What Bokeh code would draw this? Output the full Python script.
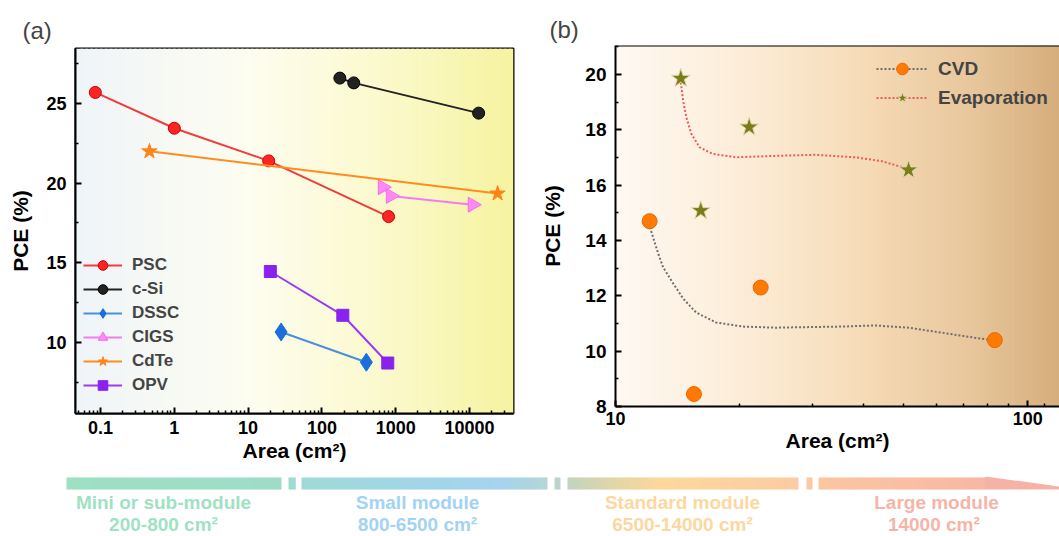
import numpy as np
from bokeh.plotting import figure
from bokeh.models import (Range1d, FixedTicker, NumeralTickFormatter, Legend, LegendItem,
                          BoxAnnotation, Span, PolyAnnotation)
from bokeh.layouts import column, row
from bokeh.embed import file_html
from bokeh.resources import INLINE

FONT = "Liberation Sans"

# ---------------- Panel (a) data ----------------
psc_area = [0.085, 1.0, 19, 800]
psc_pce = [25.7, 23.45, 21.4, 17.9]
csi_area = [175, 270, 13300]
csi_pce = [26.6, 26.3, 24.4]
dssc_area = [28, 400]
dssc_pce = [10.65, 8.75]
cigs_area = [665, 855, 11000]
cigs_pce = [19.75, 19.2, 18.65]
cdte_area = [0.46, 24000]
cdte_pce = [22.0, 19.35]
opv_area = [20, 192, 780]
opv_pce = [14.45, 11.7, 8.7]

# ---------------- Panel (b) data ----------------
cvd_area = [12.1, 15.5, 22.5, 83.2]
cvd_pce = [14.7, 8.45, 12.3, 10.4]
evap_area = [14.4, 21.1, 16.1, 51.4]
evap_pce = [19.86, 18.1, 15.08, 16.55]
# dotted trend curves
cvd_fit_area = [12.12, 12.69, 13.05, 13.8, 14.59, 15.68, 17.52, 20.34, 24.43, 35.4, 42.5, 51.4, 61.7, 74.1, 83.2]
cvd_fit_pce = [14.48, 13.53, 13.03, 12.45, 11.9, 11.4, 11.04, 10.89, 10.85, 10.89, 10.93, 10.85, 10.67, 10.49, 10.38]
evap_fit_area = [14.4, 14.59, 14.85, 15.27, 16.0, 17.22, 19.6, 24.5, 30.55, 38.1, 44.2, 51.3]
evap_fit_pce = [19.72, 19.06, 18.46, 17.86, 17.37, 17.13, 17.01, 17.06, 17.1, 17.01, 16.87, 16.59]

# ---------------- Bottom band ----------------
stage_names = ["Mini or sub-module", "Small module", "Standard module", "Large module"]
stage_ranges = ["200-800 cm²", "800-6500 cm²", "6500-14000 cm²", "14000  cm²"]
stage_x = [163, 417, 682, 936]
stage_colors = ["#9fe2c3", "#a3d3f3", "#fdd7a0", "#f6b4a7"]


def hex2rgb(h):
    return tuple(int(h[i:i + 2], 16) for i in (1, 3, 5))


def interp(stops, t):
    t = max(stops[0][0], t)
    for (t0, c0), (t1, c1) in zip(stops[:-1], stops[1:]):
        if t <= t1:
            f = (t - t0) / (t1 - t0) if t1 > t0 else 0
            a, b = hex2rgb(c0), hex2rgb(c1)
            return "#%02x%02x%02x" % tuple(int(round(a[k] + (b[k] - a[k]) * f)) for k in range(3))
    return stops[-1][1]


def log_gradient(p, x0, x1, stops, n=90):
    l0, l1 = np.log10(x0), np.log10(x1)
    for i in range(n):
        t0 = i / n
        t1 = min(1.0, (i + 1.6) / n)
        c = interp(stops, (i + 0.5) / n)
        p.add_layout(BoxAnnotation(left=10 ** (l0 + (l1 - l0) * t0), right=10 ** (l0 + (l1 - l0) * t1),
                                   fill_color=c, fill_alpha=1.0, line_color=None, level="underlay"))


def style_axis(ax, label_size, tick_size, tick_standoff, label_standoff):
    ax.axis_line_width = 2
    ax.axis_line_color = "black"
    ax.major_tick_in = 6
    ax.major_tick_out = 0
    ax.minor_tick_in = 3
    ax.minor_tick_out = 0
    ax.major_tick_line_width = 2
    ax.minor_tick_line_width = 1.5
    ax.major_tick_line_color = "black"
    ax.minor_tick_line_color = "black"
    ax.major_label_text_font = FONT
    ax.major_label_text_font_style = "bold"
    ax.major_label_text_font_size = tick_size
    ax.major_label_text_color = "black"
    ax.axis_label_text_font = FONT
    ax.axis_label_text_font_style = "bold"
    ax.axis_label_text_font_size = label_size
    ax.axis_label_text_color = "black"
    ax.major_label_standoff = tick_standoff
    ax.axis_label_standoff = label_standoff


ROW_H = 476

# ================= Panel (a) =================
ax0, ax1 = 0.0458, 39450
pa = figure(width=538, height=ROW_H, x_axis_type="log",
            x_range=Range1d(ax0, ax1), y_range=Range1d(5.53, 28.46),
            output_backend="svg", toolbar_location=None,
            min_border_left=75, min_border_right=25, min_border_top=48, min_border_bottom=ROW_H - 413,
            title="(a)")
pa.frame_align = False
pa.title.text_font = FONT
pa.title.text_font_size = "24px"
pa.title.text_font_style = "normal"
pa.title.align = "left"
pa.title.offset = -53
pa.title.standoff = 9
pa.grid.visible = False
pa.outline_line_color = "black"
pa.outline_line_width = 2
pa.outline_line_alpha = 1.0
pa.background_fill_color = "#eff4f8"
log_gradient(pa, ax0, ax1, [(0, "#eff4f8"), (0.4, "#fdfdf0"), (0.7, "#fbf9cc"), (1, "#f6f3a0")])

style_axis(pa.xaxis[0], "21px", "18px", 7, 2)
style_axis(pa.yaxis[0], "21px", "18px", 9, 11)
pa.xaxis.axis_label = "Area (cm²)"
pa.yaxis.axis_label = "PCE (%)"
pa.xaxis.ticker = FixedTicker(ticks=[0.1, 1, 10, 100, 1000, 10000],
                              minor_ticks=[d * 10.0 ** e for e in range(-2, 5) for d in range(2, 10)])
pa.xaxis.formatter = NumeralTickFormatter(format="0.[0]")
pa.yaxis.ticker = FixedTicker(ticks=[10, 15, 20, 25], minor_ticks=[7.5, 12.5, 17.5, 22.5, 27.5])

items_a = []
series_a = [
    ("PSC", psc_area, psc_pce, "#f23b3b", "circle", 12, "#ff2424", "#c80000", 0),
    ("c-Si", csi_area, csi_pce, "#222222", "circle", 12, "#222222", "#000000", 0),
    ("DSSC", dssc_area, dssc_pce, "#4a8fe0", "diamond", 18, "#1a6fdc", "#1a6fdc", 0),
    ("CIGS", cigs_area, cigs_pce, "#f27cf0", "triangle", 15, "#ff88f6", "#f070ea", -np.pi / 2),
    ("CdTe", cdte_area, cdte_pce, "#ff8c1f", "star", 16, "#ff8417", "#ff8417", 0),
    ("OPV", opv_area, opv_pce, "#9b3cf0", "square", 12, "#8a22ee", "#8a22ee", 0),
]
for name, xs, ys, lc, mk, sz, fc, mlc, ang in series_a:
    rl = pa.line(xs, ys, line_color=lc, line_width=2)
    rs = pa.scatter(xs, ys, marker=mk, size=sz, fill_color=fc, line_color=mlc, angle=ang)
    items_a.append(LegendItem(label=name, renderers=[rl, rs]))

leg_a = Legend(items=items_a, location=(8, 16), padding=0, margin=0, spacing=0,
               glyph_height=24, glyph_width=39, label_height=24, label_standoff=10,
               background_fill_alpha=0, border_line_alpha=0,
               label_text_font=FONT, label_text_font_style="bold", label_text_font_size="17px")
pa.add_layout(leg_a)

# ================= Panel (b) =================
bx0, bx1 = 10, 119.4
by0, by1 = 8, 21.05
pb = figure(width=521, height=ROW_H, x_axis_type="log",
            x_range=Range1d(bx0, bx1), y_range=Range1d(by0, by1),
            output_backend="svg", toolbar_location=None,
            min_border_left=74, min_border_right=0, min_border_top=45, min_border_bottom=ROW_H - 406,
            title="(b)")
pb.frame_align = False
pb.title.text_font = FONT
pb.title.text_font_size = "24px"
pb.title.text_font_style = "normal"
pb.title.align = "left"
pb.title.offset = -66
pb.title.standoff = 6
pb.grid.visible = False
pb.outline_line_color = None
pb.background_fill_color = "#fef9f3"
log_gradient(pb, bx0, bx1, [(0, "#fef9f3"), (0.3, "#fcecd6"), (0.55, "#f6dcb8"), (0.8, "#e8c79c"), (1, "#d5ad7c")])
pb.add_layout(Span(location=by1, dimension="width", line_color="black", line_width=2))

style_axis(pb.xaxis[0], "21px", "18px", 5, 1)
style_axis(pb.yaxis[0], "21px", "19px", 9, 18)
pb.xaxis.axis_label = "Area (cm²)"
pb.yaxis.axis_label = "PCE (%)"
pb.xaxis.ticker = FixedTicker(ticks=[10, 100], minor_ticks=[20, 30, 40, 50, 60, 70, 80, 90, 110])
pb.xaxis.formatter = NumeralTickFormatter(format="0")
pb.yaxis.ticker = FixedTicker(ticks=[8, 10, 12, 14, 16, 18, 20], minor_ticks=[9, 11, 13, 15, 17, 19, 21])

r_cvd_fit = pb.line(cvd_fit_area, cvd_fit_pce, line_color="#6e6e6e", line_width=2, line_dash="2 2")
r_evap_fit = pb.line(evap_fit_area, evap_fit_pce, line_color="#ee5a5a", line_width=2, line_dash="2 2")
r_cvd = pb.scatter(cvd_area, cvd_pce, marker="circle", size=15, fill_color="#ff7a05", line_color="#f06400")
r_evap = pb.scatter(evap_area, evap_pce, marker="star", size=20, fill_color="#7c7c18", line_color="#dcdcb0",
                    line_width=1)

leg_b = Legend(items=[LegendItem(label="CVD", renderers=[r_cvd_fit, r_cvd]),
                      LegendItem(label="Evaporation", renderers=[r_evap_fit, r_evap])],
               location=(261, 294), padding=0, margin=0, spacing=0,
               glyph_height=29, glyph_width=52, label_height=29, label_standoff=10,
               background_fill_alpha=0, border_line_alpha=0,
               label_text_font=FONT, label_text_font_style="bold", label_text_font_size="19px")
pb.add_layout(leg_b)

# ================= Bottom band =================
pbot = figure(width=1059, height=536 - ROW_H, x_range=Range1d(0, 1059), y_range=Range1d(536, ROW_H),
              output_backend="svg", toolbar_location=None,
              x_axis_location=None, y_axis_location=None, min_border=0)
pbot.grid.visible = False
pbot.outline_line_color = None
pbot.background_fill_color = "white"

bar_stops = [(66, "#9ee0c2"), (280, "#9edcc8"), (300, "#9fdad6"), (420, "#a0d6e8"), (500, "#a6d3ee"),
             (547, "#b5d5d8"), (570, "#c4d4be"), (620, "#e6d6a4"), (660, "#fdd89c"), (800, "#fccba2"),
             (820, "#fbc6a2"), (1057, "#f5b1a6")]
segments = [(66, 281), (288, 295), (301, 547), (554, 560), (567, 798), (806, 812), (818, 986)]
for s0, s1 in segments:
    xs = np.arange(s0, s1, 3.0)
    for x in xs:
        pbot.add_layout(BoxAnnotation(left=x, right=min(s1, x + 4.0), top=477, bottom=489,
                                      fill_color=interp(bar_stops, x + 1.5), fill_alpha=1.0,
                                      line_color=None, level="underlay"))
pbot.add_layout(PolyAnnotation(xs=[985, 1059, 1059, 985], ys=[476, 486, 489, 489],
                               fill_color="#f6b2a6", fill_alpha=1.0, line_color=None))

pbot.text(x=stage_x, y=[502] * 4, text=stage_names, text_color=stage_colors,
          text_font={"value": FONT}, text_font_style="bold", text_font_size="19px",
          text_align="center", text_baseline="middle")
pbot.text(x=stage_x, y=[524] * 4, text=stage_ranges, text_color=stage_colors,
          text_font={"value": FONT}, text_font_style="bold", text_font_size="19px",
          text_align="center", text_baseline="middle")

layout = column(row(pa, pb), pbot)
open("out.html", "w").write(file_html(layout, INLINE))
